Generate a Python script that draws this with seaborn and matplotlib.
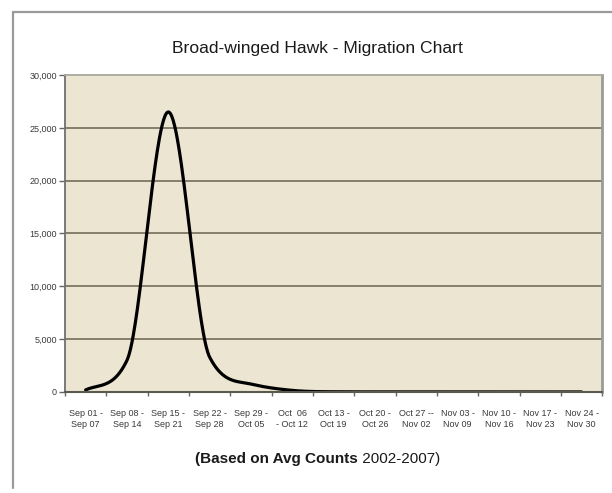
import numpy as np
import pandas as pd
import matplotlib
matplotlib.use("Agg")
import matplotlib.pyplot as plt
from matplotlib.lines import Line2D
import seaborn as sns

# Weekly migration periods and average counts (2002-2007)
weeks = [
    "Sep 01 -\nSep 07", "Sep 08 -\nSep 14", "Sep 15 -\nSep 21",
    "Sep 22 -\nSep 28", "Sep 29 -\nOct 05", "Oct  06\n- Oct 12",
    "Oct 13 -\nOct 19", "Oct 20 -\nOct 26", "Oct 27 --\nNov 02",
    "Nov 03 -\nNov 09", "Nov 10 -\nNov 16", "Nov 17 -\nNov 23",
    "Nov 24 -\nNov 30",
]
avg_counts = [200, 3000, 26500, 3300, 750, 150, 20, 10, 8, 6, 5, 4, 3]
y_ticks = [0, 5000, 10000, 15000, 20000, 25000, 30000]

title = "Broad-winged Hawk - Migration Chart"
note_bold = "(Based on Avg Counts"
note_plain = " 2002-2007)"


def smooth_line(x, y, n=60):
    """Catmull-Rom style smoothing with Fritsch-Carlson limiting (no overshoot)."""
    x = np.asarray(x, float)
    y = np.asarray(y, float)
    h = np.diff(x)
    d = np.diff(y) / h
    m = np.empty_like(y)
    m[0] = d[0]
    m[-1] = d[-1]
    m[1:-1] = (y[2:] - y[:-2]) / (x[2:] - x[:-2])
    for k in range(len(d)):
        if d[k] == 0:
            m[k] = m[k + 1] = 0.0
            continue
        a = m[k] / d[k]
        b = m[k + 1] / d[k]
        if a < 0:
            m[k] = 0.0
            a = 0.0
        if b < 0:
            m[k + 1] = 0.0
            b = 0.0
        s = a * a + b * b
        if s > 9:
            tau = 3.0 / np.sqrt(s)
            m[k] = tau * a * d[k]
            m[k + 1] = tau * b * d[k]
    xs, ys = [], []
    for k in range(len(x) - 1):
        t = np.linspace(0, 1, n, endpoint=False)
        h00 = 2 * t**3 - 3 * t**2 + 1
        h10 = t**3 - 2 * t**2 + t
        h01 = -2 * t**3 + 3 * t**2
        h11 = t**3 - t**2
        xs.append(x[k] + t * h[k])
        ys.append(h00 * y[k] + h10 * h[k] * m[k] + h01 * y[k + 1] + h11 * h[k] * m[k + 1])
    xs.append([x[-1]])
    ys.append([y[-1]])
    return np.concatenate(xs), np.concatenate(ys)


sns.set_theme(style="white")
plt.rcParams["font.family"] = ["Liberation Sans", "DejaVu Sans"]

fig = plt.figure(figsize=(6.12, 4.93), dpi=100)
ax = fig.add_axes([0.1062, 0.2049, 0.8778, 0.6430])
ax.set_facecolor("#ECE5D1")

pos = np.arange(len(weeks)) + 0.5
sx, sy = smooth_line(pos, avg_counts)
curve = pd.DataFrame({"pos": sx, "count": sy})
sns.lineplot(data=curve, x="pos", y="count", sort=False, estimator=None,
             color="black", linewidth=2.3, ax=ax)

ax.set_xlim(0, len(weeks))
ax.set_ylim(0, 30000)

# horizontal gridlines
for v in y_ticks[1:-1]:
    ax.axhline(v, color="#857f6c", linewidth=1.4, zorder=1)

ax.set_yticks(y_ticks)
ax.set_yticklabels([f"{v:,}" for v in y_ticks])
ax.set_xticks(np.arange(len(weeks) + 1), minor=False)
ax.set_xticklabels([])
ax.set_xticks(pos, minor=True)
ax.set_xticklabels(weeks, minor=True)

ax.tick_params(axis="y", which="major", direction="out", length=4, width=1,
               color="#666666", labelsize=6.5, labelcolor="#3a3a3a", pad=2, left=True)
ax.tick_params(axis="x", which="major", direction="out", length=3, width=1,
               color="#666666", bottom=True)
ax.tick_params(axis="x", which="minor", length=0, labelsize=6.5,
               labelcolor="#3a3a3a", pad=12)
for lbl in ax.get_xticklabels(minor=True):
    lbl.set_linespacing(1.3)

ax.set_xlabel("")
ax.set_ylabel("")

for side, col, lw in [("left", "#707070", 1.3), ("bottom", "#5a5a50", 1.5),
                      ("top", "#a8a8a0", 1.3), ("right", "#9a9a9a", 2.0)]:
    ax.spines[side].set_visible(True)
    ax.spines[side].set_color(col)
    ax.spines[side].set_linewidth(lw)

# chart-area frame
fig.add_artist(Line2D([13 / 612, 13 / 612], [1 - 12 / 493, 1 - 488 / 493],
                      transform=fig.transFigure, color="#9a9a9a", linewidth=1.6))
fig.add_artist(Line2D([13 / 612, 1.0], [1 - 12 / 493, 1 - 12 / 493],
                      transform=fig.transFigure, color="#9a9a9a", linewidth=1.6))

fig.text(317 / 612, 1 - 48 / 493, title, ha="center", va="center",
         fontsize=12.6, color="#1a1a1a")

# footnote: bold lead-in followed by plain years
fig.canvas.draw()
renderer = fig.canvas.get_renderer()
tb = fig.text(0, 1 - 459 / 493, note_bold, ha="left", va="center",
              fontsize=11, fontweight="bold", color="#1a1a1a")
tp = fig.text(0, 1 - 459 / 493, note_plain, ha="left", va="center",
              fontsize=11, color="#1a1a1a")
wb = tb.get_window_extent(renderer).width
wp = tp.get_window_extent(renderer).width
x0 = (318 - (wb + wp) / 2) / 612
tb.set_x(x0)
tp.set_x(x0 + wb / 612)

fig.savefig("out.png", dpi=100, facecolor="white")
